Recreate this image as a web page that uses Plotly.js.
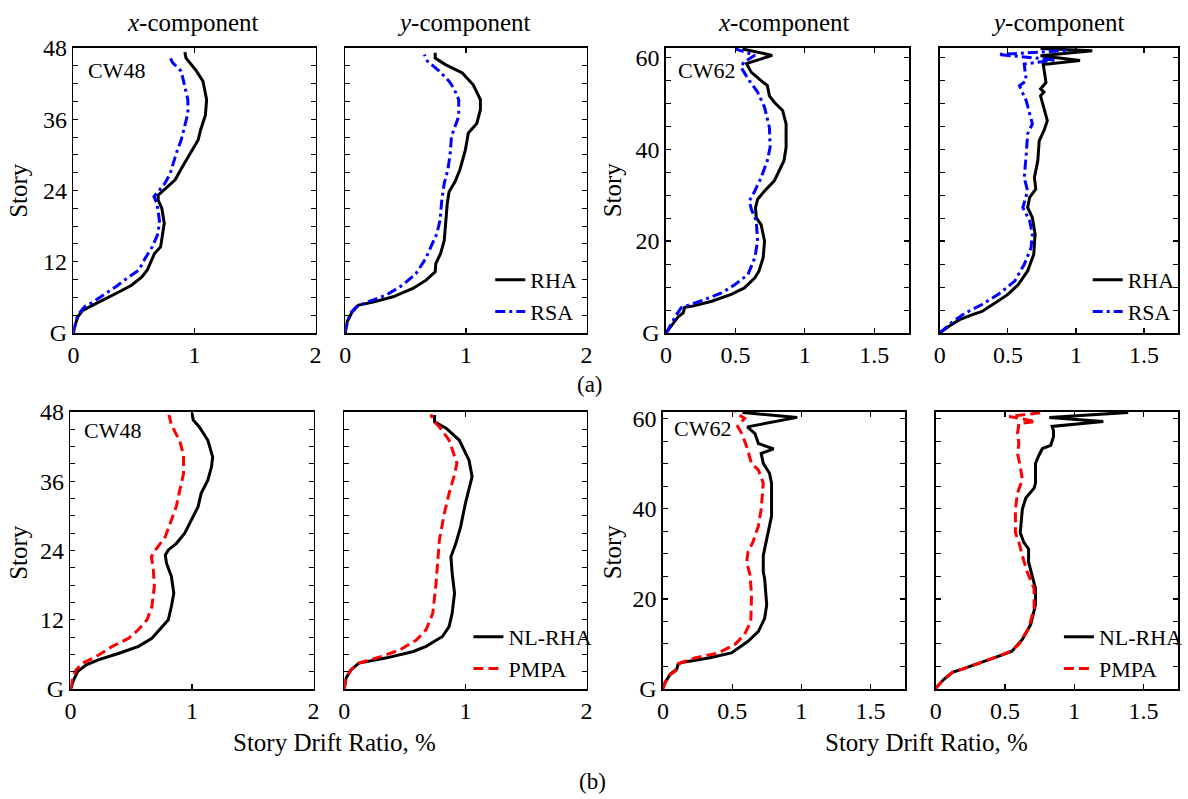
<!DOCTYPE html>
<html><head><meta charset="utf-8">
<script src="https://cdn.plot.ly/plotly-3.0.1.min.js"></script>
<style>body{margin:0;background:#fff;} #chart{width:1188px;height:799px;}</style>
</head><body><div id="chart"></div>
<script>
// ---------- DATA (story drift ratio %, story level) ----------
// (a) CW48, x-component
const p1_rha_story = [0, 0.7, 2.7, 3.8, 4.95, 5.8, 6.9, 8.05, 9.45, 10.6, 13.4, 14.5, 16.8, 18.5, 21.0, 22.4, 23.2, 24.2, 25.8, 28.0, 30.3, 32.5, 34.2, 36.7, 39.3, 42.4, 44.3, 46.3, 47.3];
const p1_rha_drift = [0, 0.005, 0.035, 0.076, 0.185, 0.27, 0.375, 0.48, 0.565, 0.61, 0.67, 0.72, 0.74, 0.75, 0.73, 0.70, 0.70, 0.755, 0.84, 0.90, 0.97, 1.03, 1.05, 1.09, 1.10, 1.07, 1.01, 0.93, 0.92];
const p1_rsa_story = [0, 0.7, 3.0, 4.4, 5.2, 6.4, 7.8, 9.2, 10.6, 12.5, 14.5, 16.8, 19.0, 21.8, 23.0, 23.8, 25.2, 26.9, 30.3, 32.5, 34.8, 37.0, 39.3, 41.5, 44.1, 45.5, 46.7];
const p1_rsa_drift = [0, 0.005, 0.035, 0.09, 0.16, 0.25, 0.35, 0.44, 0.54, 0.59, 0.65, 0.70, 0.71, 0.69, 0.665, 0.70, 0.755, 0.80, 0.85, 0.89, 0.92, 0.945, 0.945, 0.92, 0.89, 0.82, 0.79];
// (a) CW48, y-component
const p2_rha_story = [0, 0.2, 1.9, 3.5, 4.7, 5.2, 6.1, 7.5, 8.9, 10.3, 11.7, 13.4, 15.6, 17.9, 21.8, 23.8, 25.5, 27.5, 30.8, 33.7, 35.3, 37.6, 39.3, 41.8, 43.8, 45.2, 46.3, 47.2];
const p2_rha_drift = [0, 0, 0.014, 0.055, 0.11, 0.23, 0.395, 0.56, 0.67, 0.745, 0.75, 0.79, 0.82, 0.83, 0.845, 0.86, 0.91, 0.95, 0.995, 1.02, 1.09, 1.12, 1.12, 1.06, 0.97, 0.83, 0.745, 0.745];
const p2_rsa_story = [0, 0.5, 3.3, 4.5, 5.2, 6.4, 8.05, 10.0, 12.5, 15.1, 16.8, 19.0, 22.4, 25.2, 27.5, 30.3, 33.1, 34.8, 36.5, 39.3, 41.2, 42.4, 44.1, 45.8, 46.9];
const p2_rsa_drift = [0, 0, 0.04, 0.095, 0.18, 0.34, 0.475, 0.585, 0.665, 0.72, 0.76, 0.785, 0.80, 0.82, 0.85, 0.87, 0.88, 0.91, 0.94, 0.94, 0.90, 0.86, 0.78, 0.68, 0.655];
// (a) CW62, x-component
const p3_rha_story = [0, 0.7, 2.2, 3.6, 4.4, 5.6, 5.8, 6.9, 8.4, 9.8, 12.0, 13.5, 16.4, 20.0, 23.6, 25.1, 27.3, 29.1, 30.9, 33.1, 35.3, 37.5, 40.4, 45.5, 48.4, 50.2, 51.6, 53.8, 54.9, 56.7, 58.6, 60.4, 61.8];
const p3_rha_drift = [0, 0.017, 0.05, 0.09, 0.125, 0.135, 0.185, 0.33, 0.47, 0.565, 0.64, 0.67, 0.70, 0.71, 0.685, 0.65, 0.645, 0.66, 0.71, 0.78, 0.815, 0.85, 0.865, 0.865, 0.84, 0.78, 0.745, 0.73, 0.685, 0.615, 0.58, 0.765, 0.55];
const p3_rsa_story = [0, 0.2, 1.5, 4.0, 5.5, 6.0, 7.3, 8.7, 10.5, 12.7, 16.4, 20.0, 24.4, 26.9, 28.7, 30.9, 33.8, 37.5, 40.4, 44.7, 49.1, 52.4, 54.9, 57.8, 58.9, 60.4, 61.8];
const p3_rsa_drift = [0, 0.005, 0.03, 0.076, 0.11, 0.16, 0.28, 0.40, 0.495, 0.59, 0.64, 0.66, 0.65, 0.615, 0.60, 0.64, 0.685, 0.73, 0.75, 0.745, 0.71, 0.66, 0.60, 0.54, 0.56, 0.64, 0.50];
// (a) CW62, y-component
const p4_rha_story = [0, 0.15, 1.5, 2.9, 4.0, 4.7, 6.5, 8.4, 10.5, 13.5, 17.1, 21.5, 25.1, 27.3, 29.5, 31.3, 33.8, 37.5, 41.8, 44.0, 46.2, 49.1, 51.6, 52.4, 53.1, 54.5, 58.4, 59.3, 60.3, 61.4, 61.9];
const p4_rha_drift = [0, 0.005, 0.07, 0.145, 0.24, 0.31, 0.405, 0.50, 0.575, 0.645, 0.69, 0.70, 0.68, 0.645, 0.66, 0.705, 0.695, 0.72, 0.73, 0.765, 0.79, 0.765, 0.74, 0.765, 0.74, 0.78, 0.76, 1.03, 0.74, 1.12, 0.74];
const p4_rsa_story = [0, 0.15, 2.5, 4.4, 6.2, 8.4, 11.3, 14.9, 18.5, 21.5, 24.4, 27.3, 30.9, 33.8, 38.9, 43.3, 45.5, 50.5, 53.8, 54.9, 58.5, 59.4, 60.6, 61.5];
const p4_rsa_drift = [0, 0.005, 0.096, 0.19, 0.31, 0.43, 0.55, 0.62, 0.67, 0.68, 0.66, 0.61, 0.645, 0.62, 0.635, 0.645, 0.68, 0.635, 0.585, 0.635, 0.62, 0.85, 0.43, 0.96];
// (b) CW48, x-component
const p5_nl_story = [0, 0.2, 1.3, 3.05, 4.2, 5.1, 6.2, 7.4, 8.8, 10.5, 12.0, 14.3, 16.6, 19.5, 21.8, 23.2, 24.1, 25.2, 27.0, 29.3, 31.6, 33.9, 36.2, 38.5, 40.2, 43.1, 45.4, 46.6, 47.8];
const p5_nl_drift = [0, 0.005, 0.02, 0.06, 0.13, 0.235, 0.40, 0.56, 0.67, 0.74, 0.805, 0.83, 0.85, 0.83, 0.79, 0.78, 0.805, 0.87, 0.94, 0.995, 1.05, 1.075, 1.13, 1.16, 1.17, 1.13, 1.06, 1.01, 1.0];
const p5_pm_story = [0, 0.5, 1.6, 3.3, 4.5, 5.6, 7.4, 8.8, 10.3, 12.0, 14.3, 17.8, 21.2, 22.9, 24.1, 26.4, 29.3, 31.6, 34.5, 37.3, 40.5, 42.9, 45.8, 47.5];
const p5_pm_drift = [0, 0.005, 0.014, 0.046, 0.10, 0.21, 0.345, 0.48, 0.56, 0.63, 0.67, 0.69, 0.68, 0.665, 0.70, 0.78, 0.83, 0.87, 0.90, 0.93, 0.93, 0.90, 0.83, 0.81];
// (b) CW48, y-component
const p6_nl_story = [0, 0.2, 1.9, 3.3, 4.5, 5.4, 6.5, 7.4, 9.1, 10.8, 13.1, 16.6, 20.1, 22.9, 25.2, 28.1, 32.2, 34.5, 36.8, 39.6, 43.1, 45.2, 46.3, 47.5];
const p6_nl_drift = [0, 0, 0.014, 0.054, 0.12, 0.35, 0.57, 0.675, 0.81, 0.865, 0.89, 0.91, 0.89, 0.88, 0.92, 0.96, 1.0, 1.03, 1.055, 1.03, 0.95, 0.84, 0.745, 0.745];
const p6_pm_story = [0, 0.2, 1.9, 3.3, 4.5, 5.6, 6.8, 8.5, 10.3, 13.1, 17.8, 22.4, 25.8, 30.4, 33.9, 36.8, 39.1, 43.1, 45.4, 46.6, 47.6];
const p6_pm_drift = [0, 0, 0.014, 0.054, 0.12, 0.30, 0.46, 0.595, 0.675, 0.73, 0.755, 0.77, 0.785, 0.825, 0.865, 0.905, 0.93, 0.865, 0.785, 0.73, 0.715];
// (b) CW62, x-component
const p7_nl_story = [0, 0.2, 1.5, 3.3, 4.4, 5.5, 5.9, 6.9, 8.0, 10.6, 12.8, 15.7, 18.7, 24.5, 26.0, 29.6, 31.1, 34.7, 38.4, 45.7, 47.9, 50.1, 52.3, 53.3, 54.5, 56.7, 58.2, 60.3, 61.4];
const p7_nl_drift = [0, 0, 0.017, 0.053, 0.10, 0.11, 0.135, 0.33, 0.495, 0.615, 0.69, 0.735, 0.75, 0.735, 0.725, 0.725, 0.735, 0.76, 0.785, 0.785, 0.77, 0.725, 0.71, 0.80, 0.69, 0.665, 0.61, 0.97, 0.575];
const p7_pm_story = [0, 0.2, 1.5, 2.9, 4.0, 5.6, 6.9, 8.0, 9.9, 12.1, 15.0, 20.8, 25.2, 28.2, 30.4, 32.6, 36.2, 39.9, 45.7, 48.6, 50.1, 53.8, 56.7, 58.3, 60.1, 61.4];
const p7_pm_drift = [0, 0, 0.017, 0.04, 0.09, 0.11, 0.23, 0.40, 0.52, 0.59, 0.635, 0.64, 0.63, 0.605, 0.615, 0.65, 0.69, 0.71, 0.725, 0.69, 0.64, 0.605, 0.57, 0.54, 0.59, 0.52];
// (b) CW62, y-component
const p8_nl_story = [0, 0.4, 2.2, 3.7, 4.4, 5.9, 7.3, 8.4, 11.0, 14.3, 18.7, 22.3, 25.6, 28.2, 31.1, 32.6, 34.7, 39.9, 42.4, 44.6, 45.7, 50.1, 51.9, 53.4, 54.1, 56.0, 57.4, 58.3, 59.4, 60.3, 61.4];
const p8_nl_drift = [0, 0.005, 0.06, 0.12, 0.19, 0.335, 0.455, 0.55, 0.625, 0.685, 0.72, 0.72, 0.695, 0.67, 0.67, 0.635, 0.61, 0.625, 0.65, 0.71, 0.72, 0.72, 0.745, 0.77, 0.83, 0.85, 0.85, 0.84, 1.21, 0.82, 1.39];
const p8_pm_story = [0, 0.4, 2.2, 3.7, 4.4, 5.9, 7.3, 8.4, 9.9, 13.5, 17.9, 22.3, 26.0, 29.6, 32.6, 34.7, 39.9, 43.5, 46.5, 49.4, 52.3, 54.5, 56.7, 58.9, 59.4, 60.5, 61.4];
const p8_pm_drift = [0, 0.005, 0.06, 0.12, 0.19, 0.335, 0.455, 0.54, 0.60, 0.67, 0.71, 0.71, 0.66, 0.625, 0.60, 0.575, 0.575, 0.59, 0.625, 0.61, 0.59, 0.60, 0.59, 0.60, 0.72, 0.53, 0.77];

// tick labels
const cw48_tickvals = [0, 12, 24, 36, 48];
const cw48_ticktext = ['G', '12', '24', '36', '48'];
const cw62_tickvals = [0, 20, 40, 60];
const cw62_ticktext = ['G', '20', '40', '60'];
const cw48_xvals = [0, 1, 2];
const cw48_xtext = ['0', '1', '2'];
const cw62_xvals = [0, 0.5, 1, 1.5];
const cw62_xtext = ['0', '0.5', '1', '1.5'];

// ---------- LAYOUT ----------
const W = 1188, H = 799;
const FONT = '"Liberation Serif", "Times New Roman", serif';
const px = v => v / W;
const py = v => 1 - v / H;

const cols = [[74, 318], [348, 591], [671, 916], [947, 1187]];
const colsB = [[71, 316], [347, 591], [668, 912], [943, 1187]];
const rowTop = [48, 333], rowBot = [412, 689];

const BLACK = '#000000', BLUE = '#0000ff', RED = '#ff0000';
const LW = 3;

function tr(x, y, name, color, dash, idx, legend, showlegend) {
  return {
    x: x, y: y, name: name, type: 'scatter', mode: 'lines',
    line: {color: color, width: LW, dash: dash},
    xaxis: 'x' + (idx === 1 ? '' : idx), yaxis: 'y' + (idx === 1 ? '' : idx),
    legend: legend, showlegend: showlegend, hoverinfo: 'skip'
  };
}
const DASHDOT = '10px,4px,3px,4px';
const DASH = '10px,5px';

const data = [
  tr(p1_rha_drift, p1_rha_story, 'RHA', BLACK, 'solid', 1, 'legend', false),
  tr(p1_rsa_drift, p1_rsa_story, 'RSA', BLUE, DASHDOT, 1, 'legend', false),
  tr(p2_rha_drift, p2_rha_story, 'RHA', BLACK, 'solid', 2, 'legend', true),
  tr(p2_rsa_drift, p2_rsa_story, 'RSA', BLUE, DASHDOT, 2, 'legend', true),
  tr(p3_rha_drift, p3_rha_story, 'RHA', BLACK, 'solid', 3, 'legend', false),
  tr(p3_rsa_drift, p3_rsa_story, 'RSA', BLUE, DASHDOT, 3, 'legend', false),
  tr(p4_rha_drift, p4_rha_story, 'RHA', BLACK, 'solid', 4, 'legend2', true),
  tr(p4_rsa_drift, p4_rsa_story, 'RSA', BLUE, DASHDOT, 4, 'legend2', true),
  tr(p5_nl_drift, p5_nl_story, 'NL-RHA', BLACK, 'solid', 5, 'legend', false),
  tr(p5_pm_drift, p5_pm_story, 'PMPA', RED, DASH, 5, 'legend', false),
  tr(p6_nl_drift, p6_nl_story, 'NL-RHA', BLACK, 'solid', 6, 'legend3', true),
  tr(p6_pm_drift, p6_pm_story, 'PMPA', RED, DASH, 6, 'legend3', true),
  tr(p7_nl_drift, p7_nl_story, 'NL-RHA', BLACK, 'solid', 7, 'legend', false),
  tr(p7_pm_drift, p7_pm_story, 'PMPA', RED, DASH, 7, 'legend', false),
  tr(p8_nl_drift, p8_nl_story, 'NL-RHA', BLACK, 'solid', 8, 'legend4', true),
  tr(p8_pm_drift, p8_pm_story, 'PMPA', RED, DASH, 8, 'legend4', true)
];

const axBase = {
  showline: true, linecolor: 'black', linewidth: 1.6, mirror: 'ticks',
  ticks: 'inside', ticklen: 5, tickwidth: 1.2, tickcolor: 'black',
  showgrid: false, zeroline: false, fixedrange: true,
  tickfont: {family: FONT, size: 24, color: 'black'}
};

const layout = {
  width: W, height: H, margin: {l: 0, r: 0, t: 0, b: 0},
  paper_bgcolor: 'white', plot_bgcolor: 'white',
  font: {family: FONT, color: 'black'},
  annotations: [], showlegend: true
};

for (let i = 1; i <= 8; i++) {
  const top = i <= 4;
  const c = (i - 1) % 4;
  const cw62 = c >= 2;
  const xd = top ? cols[c] : colsB[c];
  const yd = top ? rowTop : rowBot;
  const sx = i === 1 ? '' : i;
  const xa = Object.assign({}, axBase, {
    domain: [px(xd[0]), px(xd[1])], anchor: 'y' + sx,
    range: cw62 ? [0, 1.75] : [0, 2],
    tickmode: 'array',
    tickvals: cw62 ? cw62_xvals : cw48_xvals,
    ticktext: cw62 ? cw62_xtext : cw48_xtext
  });
  const ya = Object.assign({}, axBase, {
    domain: [py(yd[1]), py(yd[0])], anchor: 'x' + sx,
    range: cw62 ? [0, top ? 62 : 61.5] : [0, 48],
    tickmode: 'array',
    tickvals: cw62 ? cw62_tickvals : cw48_tickvals,
    ticktext: cw62 ? cw62_ticktext : cw48_ticktext,
    showticklabels: (c % 2 === 0),
    minor: {tickmode: 'linear', tick0: 0, dtick: cw62 ? 5 : 3, ticks: 'inside', ticklen: 5, tickcolor: 'black', tickwidth: 1, showgrid: false}
  });
  layout['xaxis' + sx] = xa;
  layout['yaxis' + sx] = ya;
}

const legBase = {
  bgcolor: 'rgba(0,0,0,0)', borderwidth: 0, xanchor: 'left', yanchor: 'top',
  font: {family: FONT, size: 22, color: 'black'}, itemwidth: 30,
  tracegroupgap: 0, itemclick: false, itemdoubleclick: false
};
layout.legend = Object.assign({}, legBase, {x: px(494), y: py(259)});
layout.legend2 = Object.assign({}, legBase, {x: px(1096), y: py(259)});
layout.legend3 = Object.assign({}, legBase, {x: px(472), y: py(616)});
layout.legend4 = Object.assign({}, legBase, {x: px(1067), y: py(616)});

function ann(text, x, y, size, extra) {
  layout.annotations.push(Object.assign({
    text: text, x: px(x), y: py(y), xref: 'paper', yref: 'paper',
    showarrow: false, xanchor: 'center', yanchor: 'middle',
    font: {family: FONT, size: size, color: 'black'}
  }, extra || {}));
}
// column titles
ann('<i>x</i>-component', 194, 22, 25);
ann('<i>y</i>-component', 468, 22, 25);
ann('<i>x</i>-component', 790, 22, 25);
ann('<i>y</i>-component', 1066, 22, 25);
// building labels
ann('CW48', 117, 70, 22);
ann('CW62', 712, 70, 22);
ann('CW48', 113, 430, 22);
ann('CW62', 708, 428, 22);
// y titles
ann('Story', 18, 190, 25, {textangle: -90});
ann('Story', 617, 190, 25, {textangle: -90});
ann('Story', 18, 552, 25, {textangle: -90});
ann('Story', 617, 552, 25, {textangle: -90});
// x titles
ann('Story Drift Ratio, %', 337, 742, 25);
ann('Story Drift Ratio, %', 934, 742, 25);
// panel labels
ann('(a)', 595, 384, 23);
ann('(b)', 597, 781, 23);

Plotly.newPlot('chart', data, layout, {staticPlot: true, displayModeBar: false});
</script>
</body></html>
